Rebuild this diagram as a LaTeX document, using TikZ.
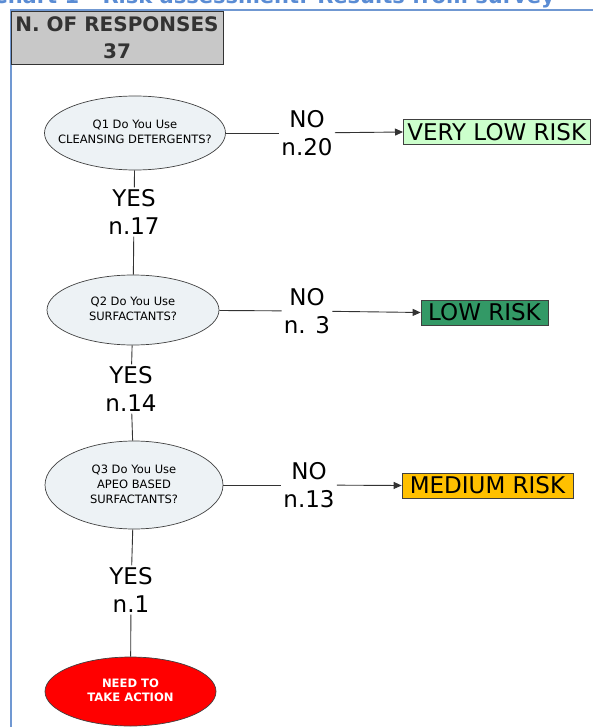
\documentclass[tikz,border=0pt]{standalone}
\usepackage{fontspec}
\setmainfont{DejaVu Sans}
\usepackage{tikz}
\usetikzlibrary{shapes.geometric}
\usetikzlibrary{arrows.meta}
\definecolor{frameblue}{HTML}{7098D2}
\definecolor{titleblue}{HTML}{5A8CD4}
\definecolor{boxgrey}{HTML}{C8C8C8}
\definecolor{boxtext}{HTML}{333333}
\definecolor{qfill}{HTML}{EDF2F5}
\definecolor{vlrgreen}{HTML}{CCFFCC}
\definecolor{lowgreen}{HTML}{339966}
\definecolor{medyellow}{HTML}{FFC000}
\definecolor{needred}{HTML}{FF0000}
\newcommand{\ctr}[1]{\makebox[0pt]{\begin{tabular}{@{}c@{}}#1\end{tabular}}}
\tikzset{
    ques/.style={ellipse, draw=black!75, fill=qfill, line width=0.7pt, inner sep=0pt, font=\fontsize{11.5}{15}\selectfont},
    ans/.style={align=center, inner sep=2pt, font=\fontsize{23}{28}\selectfont},
    risk/.style={draw=black!75, line width=0.7pt, inner xsep=4pt, inner ysep=0pt, minimum height=25pt, font=\fontsize{23}{25}\selectfont},
    conn/.style={draw=black!80, line width=0.9pt},
    arr/.style={conn, -{Triangle[length=8pt,width=7pt]}}
}

\begin{document}
\begin{tikzpicture}[x=1pt,y=-1pt]
\useasboundingbox (0,0) rectangle (593,727);
% frame and title
\coordinate (fbl) at (11,727);
\coordinate (ftl) at (11,10);
\coordinate (ftr) at (593,10);
\draw[frameblue, line width=1.5pt] (fbl) -- (ftl) -- (ftr);
\node[anchor=base east, inner sep=0pt, text=titleblue, font=\bfseries\fontsize{21}{25}\selectfont] (title) at (555,3.5) {Chart 1 - Risk assessment: Results from survey};
\node[draw=black!80, fill=boxgrey, line width=0.8pt, minimum width=212pt, minimum height=53pt, inner sep=0pt, align=center, text=boxtext, font=\bfseries\fontsize{20}{27}\selectfont] (resp) at (117,37.5) {N. OF RESPONSES\\37};

% questions
\node[ques, minimum width=181pt, minimum height=74pt] (q1) at (135,133) {\ctr{Q1 Do You Use\\CLEANSING DETERGENTS?}};
\node[ques, minimum width=172pt, minimum height=70pt] (q2) at (133,310) {\ctr{Q2 Do You Use\\SURFACTANTS?}};
\node[ques, minimum width=178pt, minimum height=88pt] (q3) at (134,485) {\ctr{Q3 Do You Use\\APEO BASED\\SURFACTANTS?}};
\node[ellipse, draw=black!75, fill=needred, line width=0.7pt, inner sep=0pt, minimum width=171pt, minimum height=69pt, text=white, font=\bfseries\fontsize{11.6}{14}\selectfont] (need) at (130.5,691.5) {\ctr{NEED TO\\TAKE ACTION}};

% answers
\foreach \x/\y/\p/\labeltext in {307/133/no1/{NO\\n.20}, 307/311/no2/{NO\\n. 3}, 309/485/no3/{NO\\n.13}, 134/212/yes1/{YES\\n.17}, 131/389/yes2/{YES\\n.14}, 131/590/yes3/{YES\\n.1}}{
    \node[ans] (\p) at (\x,\y) {\labeltext};
}

% outcomes
\node[risk, fill=vlrgreen, anchor=west] (vlr) at (403,132) {VERY LOW RISK};
\node[risk, fill=lowgreen, minimum width=127pt] (low) at (484.5,312.5) {LOW RISK};
\node[risk, fill=medyellow, minimum width=171pt] (med) at (487.5,485.5) {MEDIUM RISK};

\draw[conn] (q1) -- (no1);
\draw[arr] (no1) -- (vlr.west);
\draw[conn] (q2) -- (no2);
\draw[arr] (no2) -- (low.west);
\draw[conn] (q3) -- (no3);
\draw[arr] (no3) -- (med.west);
\draw[conn] (q1) -- (yes1);
\draw[conn] (yes1) -- (q2);
\draw[conn] (q2) -- (yes2);
\draw[conn] (yes2) -- (q3);
\draw[conn] (q3) -- (yes3);
\draw[conn] (yes3) -- (need);
\end{tikzpicture}
\end{document}
